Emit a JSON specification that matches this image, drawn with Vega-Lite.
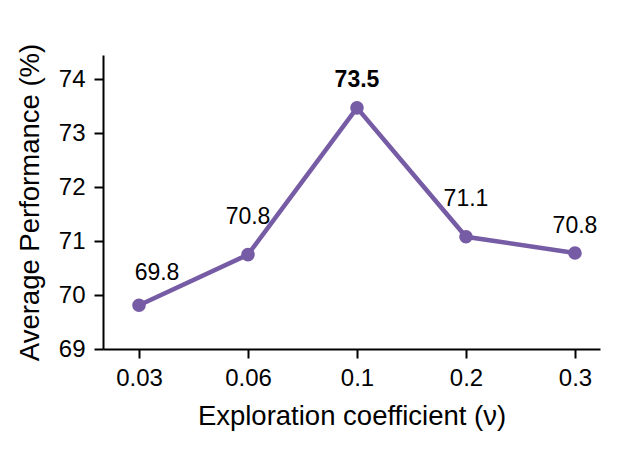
{
  "$schema": "https://vega.github.io/schema/vega-lite/v6.json",
  "width": 497,
  "height": 294,
  "autosize": {"type": "none"},
  "padding": {"left": 103, "top": 55, "right": 32, "bottom": 103},
  "background": "white",
  "config": {
    "view": {"stroke": null},
    "font": "Liberation Sans",
    "axis": {
      "domainColor": "black",
      "domainWidth": 2,
      "tickColor": "black",
      "tickWidth": 2,
      "tickSize": 9,
      "labelColor": "black",
      "labelFont": "Liberation Sans",
      "labelFontSize": 24,
      "titleColor": "black",
      "titleFont": "Liberation Sans",
      "titleFontSize": 27.5,
      "titleFontWeight": "normal",
      "grid": false
    }
  },
  "data": {
    "values": [
      {"nu": "0.03", "perf": 69.81, "label": "69.8"},
      {"nu": "0.06", "perf": 70.75, "label": "70.8"},
      {"nu": "0.1", "perf": 73.47, "label": "73.5"},
      {"nu": "0.2", "perf": 71.08, "label": "71.1"},
      {"nu": "0.3", "perf": 70.78, "label": "70.8"}
    ]
  },
  "encoding": {
    "x": {
      "field": "nu",
      "type": "ordinal",
      "sort": null,
      "scale": {"type": "point", "padding": 0.28, "align": 0.59},
      "axis": {"title": "Exploration coefficient (ν)", "labelAngle": 0, "labelPadding": 8, "titlePadding": 12}
    },
    "y": {
      "field": "perf",
      "type": "quantitative",
      "scale": {"domain": [69, 74.45], "nice": false, "zero": false},
      "axis": {"title": "Average Performance (%)", "values": [69, 70, 71, 72, 73, 74], "labelPadding": 9, "titlePadding": 14}
    }
  },
  "layer": [
    {"mark": {"type": "line", "color": "#765ba5", "strokeWidth": 4.5}},
    {"mark": {"type": "point", "filled": true, "opacity": 1, "color": "#765ba5", "size": 185}},
    {
      "transform": [{"filter": "datum.nu === '0.03'"}],
      "mark": {"type": "text", "fontSize": 23, "color": "black", "baseline": "alphabetic", "dx": 18, "dy": -25},
      "encoding": {"text": {"field": "label"}}
    },
    {
      "transform": [{"filter": "datum.nu === '0.06' || datum.nu === '0.2'"}],
      "mark": {"type": "text", "fontSize": 23, "color": "black", "baseline": "alphabetic", "dy": -31},
      "encoding": {"text": {"field": "label"}}
    },
    {
      "transform": [{"filter": "datum.nu === '0.3'"}],
      "mark": {"type": "text", "fontSize": 23, "color": "black", "baseline": "alphabetic", "dy": -20},
      "encoding": {"text": {"field": "label"}}
    },
    {
      "transform": [{"filter": "datum.nu === '0.1'"}],
      "mark": {"type": "text", "fontSize": 23, "fontWeight": "bold", "color": "black", "baseline": "alphabetic", "dy": -21},
      "encoding": {"text": {"field": "label"}}
    }
  ]
}
